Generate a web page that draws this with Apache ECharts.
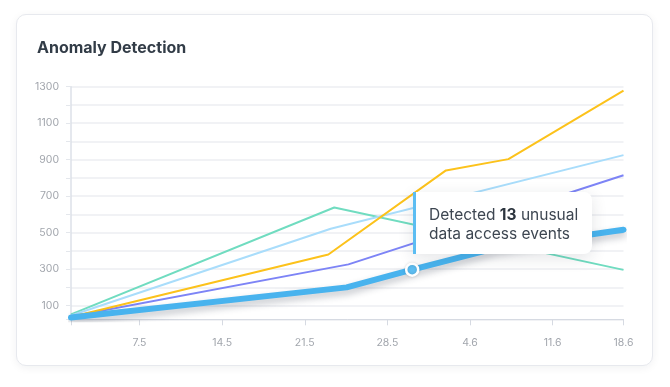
<!DOCTYPE html>
<html>
<head>
<meta charset="utf-8">
<script src="https://cdn.jsdelivr.net/npm/echarts@6/dist/echarts.min.js"></script>
<style>
  html, body { margin:0; padding:0; width:670px; height:387px; background:#ffffff; overflow:hidden; }
  #card { position:absolute; left:16px; top:14px; width:637px; height:352px; box-sizing:border-box;
          border:1px solid #e7e9ee; border-radius:10px; background:#fff;
          box-shadow:0 2px 8px rgba(20,30,50,0.06); }
  #chart { position:absolute; left:0; top:0; width:670px; height:387px; }
</style>
</head>
<body>
<div id="card"></div>
<div id="chart"></div>
<script>
// ---- data (x = days since 1 May, y = events) ----
const xTickDays   = [0.2, 6, 13, 20, 27, 34, 41, 47];
const xLabelDays  = [6, 13, 20, 27, 34, 41, 47];
const xLabels     = ['7.5', '14.5', '21.5', '28.5', '4.6', '11.6', '18.6'];
const yTickValues = [25, 100, 200, 300, 400, 500, 600, 700, 800, 900, 1000, 1100, 1200, 1300];
const yLabelValues = [100, 300, 500, 700, 900, 1100, 1300];

const accessDays   = [0.2, 23.55, 29.1, 36.1, 47];
const accessValues = [35, 200, 297, 414, 516];
const markerIndex  = 2;
const markerCount  = 13;

const purpleDays   = [0.2, 23.7, 47];
const purpleValues = [40, 326, 815];
const yellowDays   = [0.2, 22.0, 31.96, 37.25, 47];
const yellowValues = [38, 380, 841, 903, 1278];
const skyDays      = [0.2, 22.2, 47];
const skyValues    = [46, 521, 925];
const greenDays    = [0.2, 22.5, 47];
const greenValues  = [52, 638, 296];

const zip = (d, v) => d.map((x, i) => [x, v[i]]);

const chart = echarts.init(document.getElementById('chart'), null, { renderer: 'canvas' });

const thinLine = (name, color, days, vals) => ({
  name, type: 'line', data: zip(days, vals), symbol: 'none', silent: true,
  lineStyle: { color, width: 2 }, itemStyle: { color },
  emphasis: { disabled: true }
});

const accessData = zip(accessDays, accessValues).map((p, i) => i === markerIndex
  ? { value: p, symbol: 'circle', symbolSize: 12,
      itemStyle: { color: '#5dbdf1', borderColor: '#ffffff', borderWidth: 2.5,
                   shadowColor: 'rgba(0,0,0,0.15)', shadowBlur: 3 } }
  : { value: p, symbol: 'none' });

chart.setOption({
  animation: false,
  title: {
    text: 'Anomaly Detection', left: 37, top: 40.5, padding: 0,
    textStyle: { fontFamily: 'Inter', fontSize: 16, fontWeight: 700, color: '#323c47' }
  },
  grid: { left: 71, right: 46.5, top: 86.7, bottom: 67.7, containLabel: false, outerBoundsMode: 'none' },
  xAxis: {
    type: 'value', min: 0.2, max: 47,
    axisLine: { show: true, lineStyle: { color: '#d6dae2', width: 1 } },
    axisTick: { show: true, length: 6, customValues: xTickDays, lineStyle: { color: '#d6dae2' } },
    axisLabel: {
      customValues: xLabelDays, margin: 18,
      formatter: v => xLabels[xLabelDays.indexOf(v)] ?? '',
      fontFamily: 'Inter', fontSize: 10.5, color: '#a2a6ad'
    },
    splitLine: { show: false }
  },
  yAxis: {
    type: 'value', min: 25, max: 1300,
    axisLine: { show: true, lineStyle: { color: '#dde1e8', width: 1.5 } },
    axisTick: { show: true, length: 5, customValues: yTickValues, lineStyle: { color: '#e4e7ec' } },
    axisLabel: { customValues: yLabelValues, margin: 12, formatter: v => String(v),
                 fontFamily: 'Inter', fontSize: 10.5, color: '#a2a6ad' },
    splitLine: { show: true, lineStyle: { color: '#eceef2', width: 1.5 } }
  },
  tooltip: {
    trigger: 'item', triggerOn: 'none', alwaysShowContent: true, transitionDuration: 0,
    backgroundColor: '#ffffff', borderWidth: 0, padding: [13, 14, 11, 13],
    position: function () {
      const p = chart.convertToPixel({ gridIndex: 0 }, [accessDays[markerIndex], accessValues[markerIndex]]);
      return [p[0] + 1, p[1] - 77.6];
    },
    formatter: function () {
      return '<div style="font-family:Inter;font-size:15.5px;line-height:19px;color:#3d4651;">Detected <b style="font-weight:700;color:#2c343e">'
        + markerCount + '</b> unusual<br>data access events</div>';
    },
    extraCssText: 'border-style:solid;border-color:#5cbdf2;border-width:0 0 0 3px;border-radius:0 8px 8px 0;box-shadow:0 4px 16px rgba(30,40,60,0.12);'
  },
  series: [
    thinLine('Network', '#70dcc0', greenDays, greenValues),
    thinLine('Logins', '#a9ddfb', skyDays, skyValues),
    thinLine('Privileges', '#7d84f6', purpleDays, purpleValues),
    thinLine('Downloads', '#fcc21b', yellowDays, yellowValues),
    {
      name: 'Access events', type: 'line', data: accessData, symbol: 'none',
      lineStyle: { color: '#48b3ee', width: 6, cap: 'round', join: 'round',
                   shadowColor: 'rgba(30,40,60,0.28)', shadowBlur: 7, shadowOffsetY: 4 },
      itemStyle: { color: '#48b3ee' },
      emphasis: { scale: false, focus: 'none' },
      z: 5
    }
  ]
});

chart.dispatchAction({ type: 'showTip', seriesIndex: 4, dataIndex: markerIndex });
</script>
</body>
</html>
